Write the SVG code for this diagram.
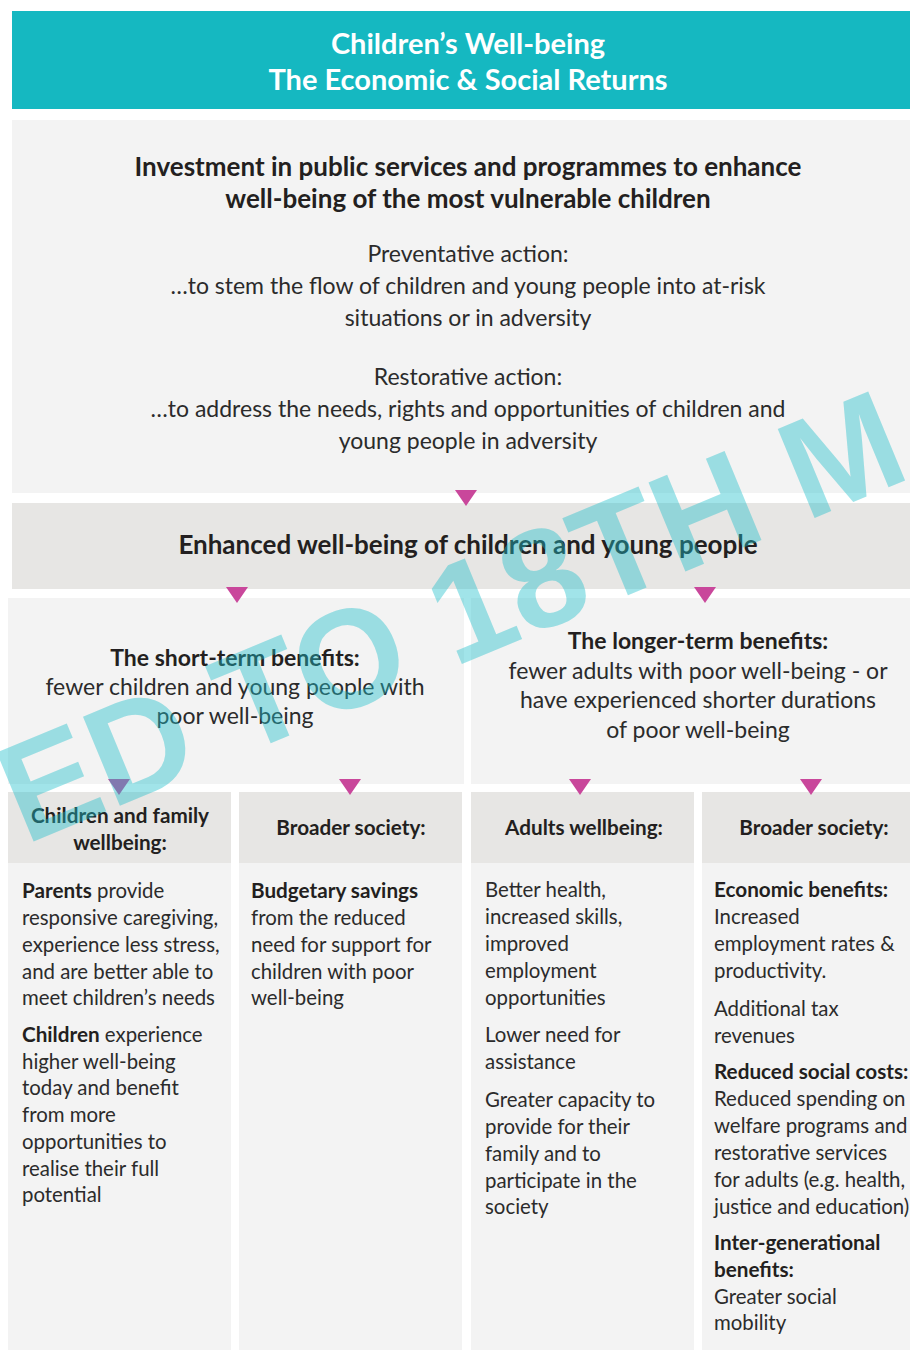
<svg xmlns="http://www.w3.org/2000/svg" width="910" height="1350" viewBox="0 0 910 1350">
<style>
text{font-family:Lato,"Source Sans Pro","Liberation Sans",sans-serif;fill:#231f20}
.t{font-weight:700;font-size:29px;fill:#fff;text-anchor:middle}
.h{font-weight:700;font-size:26px;text-anchor:middle}
.m{font-size:23px;text-anchor:middle;fill:#2b2b2b}
.hb{font-weight:700;font-size:23px;text-anchor:middle}
.hm{font-size:23px;text-anchor:middle;fill:#2b2b2b}
.ch{font-weight:700;font-size:20.7px;text-anchor:middle}
.b{font-size:20.4px;fill:#2b2b2b}
.bb{font-weight:700;font-size:20.7px;fill:#231f20}
.light{fill:#f3f3f3}
.gray{fill:#e7e6e4}
.arr{fill:#c9479b}
.wm{font-family:"Liberation Sans",Arial,sans-serif;font-weight:700;font-size:140px;fill:#1fbfcb;fill-opacity:0.42}
</style>
<rect width="910" height="1350" fill="#fff"/>
<g id="title">
<rect x="12" y="11" width="898" height="98" fill="#15b8c1"/>
<text class="t" x="468" y="54">Children’s Well-being</text>
<text class="t" x="468" y="90">The Economic &amp; Social Returns</text>
</g>
<g id="investment">
<rect class="light" x="12" y="120" width="898" height="373"/>
<text class="h" x="468" y="176">Investment in public services and programmes to enhance</text>
<text class="h" x="468" y="208">well-being of the most vulnerable children</text>
<text class="m" x="468" y="262">Preventative action:</text>
<text class="m" x="468" y="294">…to stem the flow of children and young people into at-risk</text>
<text class="m" x="468" y="326">situations or in adversity</text>
<text class="m" x="468" y="385">Restorative action:</text>
<text class="m" x="468" y="417">…to address the needs, rights and opportunities of children and</text>
<text class="m" x="468" y="449">young people in adversity</text>
</g>
<g id="enhanced">
<rect class="gray" x="12" y="503" width="898" height="86"/>
<text class="h" x="468" y="554">Enhanced well-being of children and young people</text>
</g>
<g id="short-term">
<rect class="light" x="8" y="598" width="456" height="186"/>
<text class="hb" x="235" y="666">The short-term benefits:</text>
<text class="hm" x="235" y="695">fewer children and young people with</text>
<text class="hm" x="235" y="724">poor well-being</text>
</g>
<g id="longer-term">
<rect class="light" x="471" y="598" width="439" height="186"/>
<text class="hb" x="698" y="649">The longer-term benefits:</text>
<text class="hm" x="698" y="679">fewer adults with poor well-being - or</text>
<text class="hm" x="698" y="708">have experienced shorter durations</text>
<text class="hm" x="698" y="738">of poor well-being</text>
</g>
<g id="children-family">
<rect class="gray" x="8" y="792" width="223" height="71"/>
<rect class="light" x="8" y="863" width="223" height="487"/>
<text class="ch" x="120" y="823">Children and family</text>
<text class="ch" x="120" y="850">wellbeing:</text>
<text class="b" x="22" y="898"><tspan class="bb">Parents</tspan> provide</text>
<text class="b" x="22" y="925">responsive caregiving,</text>
<text class="b" x="22" y="952">experience less stress,</text>
<text class="b" x="22" y="979">and are better able to</text>
<text class="b" x="22" y="1005">meet children’s needs</text>
<text class="b" x="22" y="1042"><tspan class="bb">Children</tspan> experience</text>
<text class="b" x="22" y="1069">higher well-being</text>
<text class="b" x="22" y="1095">today and benefit</text>
<text class="b" x="22" y="1122">from more</text>
<text class="b" x="22" y="1149">opportunities to</text>
<text class="b" x="22" y="1176">realise their full</text>
<text class="b" x="22" y="1202">potential</text>
</g>
<g id="broader-society-1">
<rect class="gray" x="239" y="792" width="223" height="71"/>
<rect class="light" x="239" y="863" width="223" height="487"/>
<text class="ch" x="351" y="835">Broader society:</text>
<text class="b bb" x="251" y="898">Budgetary savings</text>
<text class="b" x="251" y="925">from the reduced</text>
<text class="b" x="251" y="952">need for support for</text>
<text class="b" x="251" y="979">children with poor</text>
<text class="b" x="251" y="1005">well-being</text>
</g>
<g id="adults-wellbeing">
<rect class="gray" x="471" y="792" width="223" height="71"/>
<rect class="light" x="471" y="863" width="223" height="487"/>
<text class="ch" x="584" y="835">Adults wellbeing:</text>
<text class="b" x="485" y="897">Better health,</text>
<text class="b" x="485" y="924">increased skills,</text>
<text class="b" x="485" y="951">improved</text>
<text class="b" x="485" y="978">employment</text>
<text class="b" x="485" y="1005">opportunities</text>
<text class="b" x="485" y="1042">Lower need for</text>
<text class="b" x="485" y="1069">assistance</text>
<text class="b" x="485" y="1107">Greater capacity to</text>
<text class="b" x="485" y="1134">provide for their</text>
<text class="b" x="485" y="1161">family and to</text>
<text class="b" x="485" y="1188">participate in the</text>
<text class="b" x="485" y="1214">society</text>
</g>
<g id="broader-society-2">
<rect class="gray" x="702" y="792" width="208" height="71"/>
<rect class="light" x="702" y="863" width="208" height="487"/>
<text class="ch" x="814" y="835">Broader society:</text>
<text class="b bb" x="714" y="897">Economic benefits:</text>
<text class="b" x="714" y="924">Increased</text>
<text class="b" x="714" y="951">employment rates &amp;</text>
<text class="b" x="714" y="978">productivity.</text>
<text class="b" x="714" y="1016">Additional tax</text>
<text class="b" x="714" y="1043">revenues</text>
<text class="b bb" x="714" y="1079">Reduced social costs:</text>
<text class="b" x="714" y="1106">Reduced spending on</text>
<text class="b" x="714" y="1133">welfare programs and</text>
<text class="b" x="714" y="1160">restorative services</text>
<text class="b" x="714" y="1187">for adults (e.g. health,</text>
<text class="b" x="714" y="1214">justice and education)</text>
<text class="b bb" x="714" y="1250">Inter-generational</text>
<text class="b bb" x="714" y="1277">benefits:</text>
<text class="b" x="714" y="1304">Greater social</text>
<text class="b" x="714" y="1330">mobility</text>
</g>
<g id="connectors">
<polygon class="arr" points="455,490 477,490 466,506"/>
<polygon class="arr" points="226,587 248,587 237,603"/>
<polygon class="arr" points="694,587 716,587 705,603"/>
<polygon class="arr" points="108,779 130,779 119,795"/>
<polygon class="arr" points="339,779 361,779 350,795"/>
<polygon class="arr" points="569,779 591,779 580,795"/>
<polygon class="arr" points="800,779 822,779 811,795"/>
</g>
<g id="watermark">
<text class="wm" transform="translate(25,845) rotate(-22.5)">ED TO 18TH M</text>
</g>
</svg>
